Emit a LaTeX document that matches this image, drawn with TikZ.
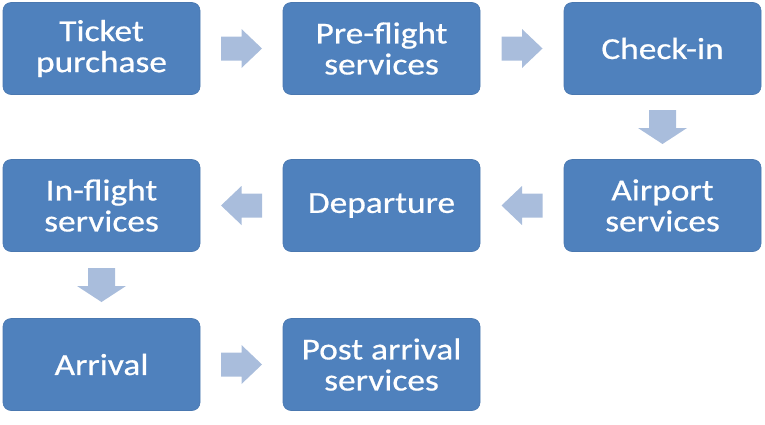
\documentclass[tikz,border=0pt]{standalone}
\usepackage{fontspec}
\setmainfont[FakeStretch=1.16,FakeBold=0.6]{Carlito}
\usetikzlibrary{calc}
\definecolor{boxblue}{HTML}{4F81BD}
\definecolor{boxedge}{HTML}{4A78B0}
\definecolor{arrblue}{HTML}{A9BDDC}
\tikzset{
  stepbox/.style={rounded corners=8pt, fill=boxblue, draw=boxedge, line width=0.6pt,
    minimum width=197pt, minimum height=92pt, inner sep=0pt,
    text=white, align=center, font=\fontsize{30.5}{31}\selectfont},
  rarr/.pic={\fill[arrblue] (-20.5,-12) -- (0,-12) -- (0,-19.5) -- (20.5,0) -- (0,19.5) -- (0,12) -- (-20.5,12) -- cycle;},
  larr/.pic={\fill[arrblue] (20.5,-12) -- (0,-12) -- (0,-19.5) -- (-20.5,0) -- (0,19.5) -- (0,12) -- (20.5,12) -- cycle;},
  darr/.pic={\fill[arrblue] (-13.5,-17) -- (-13.5,1) -- (-24.5,1) -- (0,17) -- (24.5,1) -- (13.5,1) -- (13.5,-17) -- cycle;}
}
\begin{document}
\begin{tikzpicture}[x=1pt,y=-1pt]
\useasboundingbox (0,0) rectangle (765,424);
\node[stepbox] (tp) at (101.5,48.5) {Ticket\\purchase};
\node[stepbox] (pf) at (381.5,48.5) {Pre-flight\\services};
\node[stepbox] (ci) at (662.5,48.5) {Check-in};
\node[stepbox] (as) at (662.5,205.5) {Airport\\services};
\node[stepbox] (dp) at (381.5,205.5) {Departure};
\node[stepbox] (is) at (101.5,205.5) {In-flight\\services};
\node[stepbox] (ar) at (101.5,364.5) {Arrival};
\node[stepbox] (pa) at (381.5,364.5) {Post arrival\\services};
\pic at ($(tp.east)!0.5!(pf.west)$) {rarr};
\pic at ($(pf.east)!0.5!(ci.west)$) {rarr};
\pic at ($(ci.south)!0.5!(as.north)$) {darr};
\pic at ($(as.west)!0.5!(dp.east)$) {larr};
\pic at ($(dp.west)!0.5!(is.east)$) {larr};
\pic at ($(is.south)!0.5!(ar.north)$) {darr};
\pic at ($(ar.east)!0.5!(pa.west)$) {rarr};
\end{tikzpicture}
\end{document}
